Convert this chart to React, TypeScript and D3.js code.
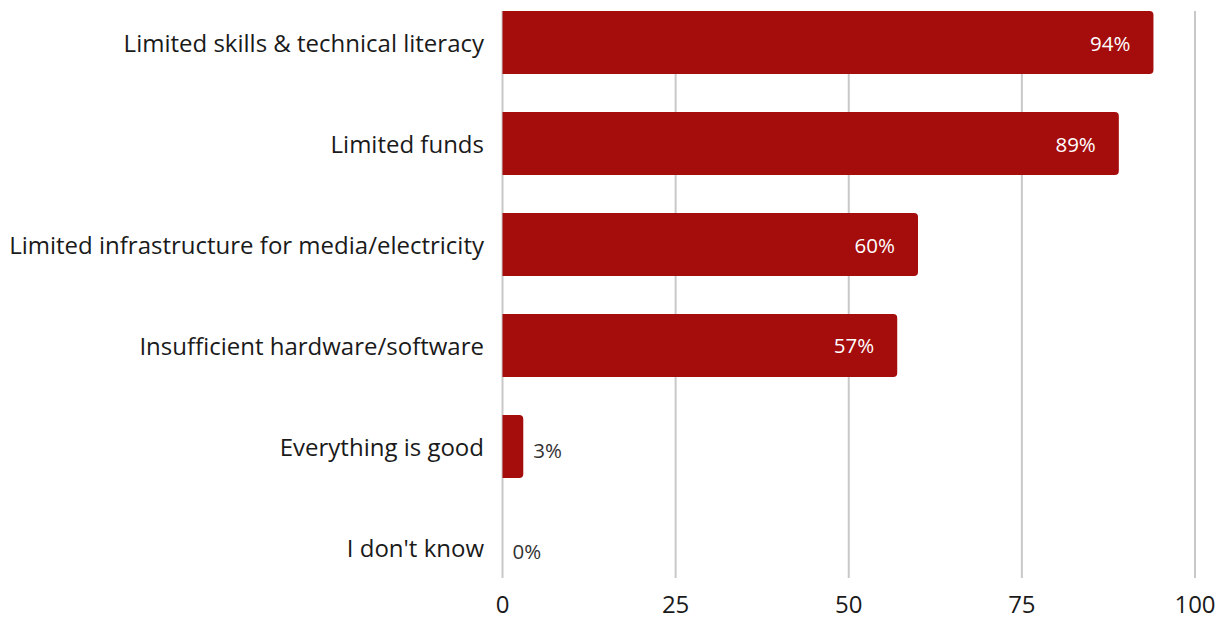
import React from "react";
import * as d3 from "d3";

const categories = [
  "Limited skills & technical literacy",
  "Limited funds",
  "Limited infrastructure for media/electricity",
  "Insufficient hardware/software",
  "Everything is good",
  "I don't know",
];
const values = [94, 89, 60, 57, 3, 0];
const ticks = [0, 25, 50, 75, 100];

const W = 1224;
const H = 617;
const FONT = "'Open Sans', sans-serif";
const BAR = "#a50c0c";

export default function App() {
  const x = d3.scaleLinear().domain([0, 100]).range([502.5, 1195]);
  const y = d3
    .scaleBand<string>()
    .domain(categories)
    .range([11, 579])
    .paddingInner(0.376)
    .paddingOuter(0);
  const bw = y.bandwidth();
  const r = 4;
  const barPath = (v: number, y0: number) => {
    const x0 = x(0);
    const x1 = x(v);
    const w = x1 - x0;
    if (w <= 0) return "";
    const rr = Math.min(r, w);
    return `M${x0},${y0}H${x1 - rr}Q${x1},${y0} ${x1},${y0 + rr}V${y0 + bw - rr}Q${x1},${y0 + bw} ${x1 - rr},${y0 + bw}H${x0}Z`;
  };
  return (
    <svg width={W} height={H} style={{ display: "block", position: "absolute", left: 0, top: 0 }}>
      <rect width={W} height={H} fill="#fff" />
      {ticks.map((t) => (
        <line key={t} x1={x(t)} x2={x(t)} y1={11} y2={578} stroke="#c8c8c8" strokeWidth={2} />
      ))}
      {categories.map((c, i) => {
        const y0 = y(c)!;
        const v = values[i];
        const inside = v >= 20;
        return (
          <g key={c}>
            <path d={barPath(v, y0)} fill={BAR} />
            <text
              x={484}
              y={y0 + bw / 2}
              textAnchor="end"
              dominantBaseline="central"
              fontFamily={FONT}
              fontSize={24}
              fill="#1a1a1a"
            >
              {c}
            </text>
            <text
              x={inside ? x(v) - 23 : x(v) + 10}
              y={y0 + bw / 2 + (inside ? 0 : 4)}
              textAnchor={inside ? "end" : "start"}
              dominantBaseline="central"
              fontFamily={FONT}
              fontSize={20.5}
              fill={inside ? "#ffffff" : "#333333"}
            >
              {v}%
            </text>
          </g>
        );
      })}
      {ticks.map((t) => (
        <text
          key={"l" + t}
          x={x(t)}
          y={612.5}
          textAnchor="middle"
          fontFamily={FONT}
          fontSize={24}
          fill="#1a1a1a"
        >
          {t}
        </text>
      ))}
    </svg>
  );
}
